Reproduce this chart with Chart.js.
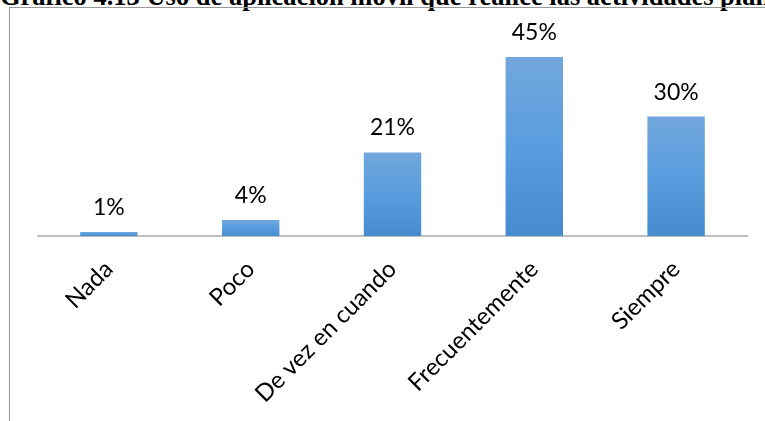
<!DOCTYPE html>
<html>
<head>
<meta charset="utf-8">
<script src="https://cdn.jsdelivr.net/npm/chart.js@4/dist/chart.umd.min.js"></script>
<style>
    html, body { margin: 0; padding: 0; background: #fff; overflow: hidden; }
    #wrap   { position: relative; width: 765px; height: 421px; overflow: hidden; }
    #title  { position: absolute; left: 0; top: -17px; white-space: nowrap;
              font: bold 26.5px/26px 'Liberation Serif', serif; color: #000; }
    #frame  { position: absolute; left: 9px; top: 7px; width: 900px; height: 600px;
              border-left: 1px solid #999; border-top: 1px solid #999; }
    #chart  { position: absolute; left: 0; top: 0; }
</style>
</head>
<body>
<div id="wrap">
    <div id="title">Gráfico 4.13 Uso de aplicación móvil que realice las actividades planificadas</div>
    <div id="frame"></div>
    <canvas id="chart" width="765" height="421"></canvas>
</div>
<script>
'use strict';

// ── Data ────────────────────────────────────────────────
const categories = ['Nada', 'Poco', 'De vez en cuando', 'Frecuentemente', 'Siempre'];
const values     = [1, 4, 21, 45, 30];          // percent
const yMin = 0, yMax = 50;

const FONT = 'Lato, "Open Sans", sans-serif';

// ── Bar gradient (each bar top → base) ──────────────────
const barFill = (ctx) => {
    const chart = ctx.chart;
    const y = chart.scales && chart.scales.y;
    if (!chart.chartArea || !y || ctx.raw === undefined) return '#5b9bd5';
    const top  = y.getPixelForValue(ctx.raw);
    const base = y.getPixelForValue(0);
    const g = chart.ctx.createLinearGradient(0, top, 0, base);
    g.addColorStop(0,   '#72a7dc');
    g.addColorStop(0.5, '#599ddf');
    g.addColorStop(1,   '#468bcd');
    return g;
};

// ── Value labels above bars ─────────────────────────────
const pctLabels = {
    id: 'pctLabels',
    afterDatasetsDraw(chart) {
        const c = chart.ctx;
        const meta = chart.getDatasetMeta(0);
        c.save();
        c.font = '23px ' + FONT;
        c.fillStyle = '#000';
        c.textAlign = 'center';
        c.textBaseline = 'alphabetic';
        meta.data.forEach((bar, i) => c.fillText(values[i] + '%', bar.x, bar.y - 17));
        c.restore();
    }
};

const draw = () => {
    new Chart(document.getElementById('chart'), {
        type: 'bar',
        data: {
            labels: categories,
            datasets: [{
                data: values,
                backgroundColor: barFill,
                borderWidth: 0,
                categoryPercentage: 1,
                barPercentage: 0.405,
            }]
        },
        options: {
            responsive: false,
            animation: false,
            devicePixelRatio: 1,
            layout: { padding: { left: 38, right: 18, top: 37, bottom: 0 } },
            plugins: { legend: { display: false }, tooltip: { enabled: false }, title: { display: false } },
            scales: {
                x: {
                    grid: { display: false },
                    border: { display: true, color: '#bfbfbf', width: 2 },
                    ticks: {
                        color: '#000', font: { family: FONT, size: 24 },
                        minRotation: 45, maxRotation: 45, padding: 11, autoSkip: false
                    },
                    afterFit: (s) => { s.height = 185; }
                },
                y: { display: false, min: yMin, max: yMax }
            }
        },
        plugins: [pctLabels]
    });
};

(document.fonts && document.fonts.load ? document.fonts.load('23px Lato').catch(() => {}) : Promise.resolve())
    .then(draw);
</script>
</body>
</html>
